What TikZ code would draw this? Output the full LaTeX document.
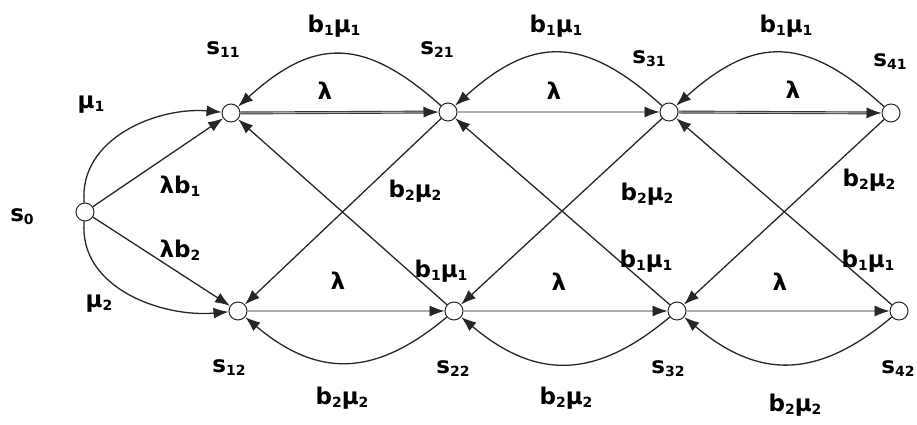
\documentclass[tikz,border=0pt]{standalone}
\usepackage{fontspec}
\setmainfont{DejaVu Sans}
\usetikzlibrary{automata, arrows.meta}

\newcommand{\sbs}[1]{\raisebox{-3pt}{\fontsize{14}{14}\selectfont #1}}

\begin{document}
\begin{tikzpicture}[
        ->,
        >={Latex[length=15pt,width=11pt]},
        every state/.style={draw=black!85, fill=white, line width=1pt, minimum size=18pt, inner sep=0pt},
        every edge/.append style={draw=black!85, line width=1.3pt},
        lam/.style={draw=black!80, double=gray!65, double distance=1.1pt, line width=0.9pt,
            -{Latex[length=15pt,width=11pt,color=black!85]}},
        txt/.style={font=\fontsize{23}{25}\selectfont\bfseries, inner sep=0pt},
        x=1pt,
        y=1pt
    ]
    \useasboundingbox (0,0) rectangle (917,425);

    % states
    \node[state] (s0)  at (85,213)  {};
    \node[state] (s11) at (231,312) {};
    \node[state] (s21) at (448,313) {};
    \node[state] (s31) at (669,313) {};
    \node[state] (s41) at (891,312) {};
    \node[state] (s12) at (238,114) {};
    \node[state] (s22) at (454,114) {};
    \node[state] (s32) at (677,114) {};
    \node[state] (s42) at (899,114) {};

    % state names
    \node[txt] (n0)  at (22,208)  {s\sbs{0}};
    \node[txt] (n11) at (223,375) {s\sbs{11}};
    \node[txt] (n21) at (437,375) {s\sbs{21}};
    \node[txt] (n31) at (649,366) {s\sbs{31}};
    \node[txt] (n41) at (890,363) {s\sbs{41}};
    \node[txt] (n12) at (229,57)  {s\sbs{12}};
    \node[txt] (n22) at (453,56)  {s\sbs{22}};
    \node[txt] (n32) at (668,56)  {s\sbs{32}};
    \node[txt] (n42) at (898,56)  {s\sbs{42}};

    % from s0
    \draw (s0) edge[out=95, in=175] (s11)
    (s0) edge (s11)
    (s0) edge (s12)
    (s0) edge[out=265, in=185] (s12)
    ;

    % arrivals, rates lambda
    \draw (s11) edge[lam] (s21)
    (s21) edge[lam] (s31)
    (s31) edge[lam] (s41)
    (s12) edge[lam] (s22)
    (s22) edge[lam] (s32)
    (s32) edge[lam] (s42)
    ;

    % services in the same row
    \draw (s21) edge[bend right=42, looseness=1.3] (s11)
    (s31) edge[bend right=42, looseness=1.3] (s21)
    (s41) edge[bend right=42, looseness=1.3] (s31)
    (s22) edge[bend left=40, looseness=1.2] (s12)
    (s32) edge[bend left=40, looseness=1.2] (s22)
    (s42) edge[bend left=40, looseness=1.2] (s32)
    ;

    % services across rows
    \draw (s21) edge (s12)
    (s31) edge (s22)
    (s41) edge (s32)
    (s22) edge (s11)
    (s32) edge (s21)
    (s42) edge (s31)
    ;

    % rate labels
    \node[txt] (m1)  at (91,320)  {μ\sbs{1}};
    \node[txt] (lb1) at (180,239) {λb\sbs{1}};
    \node[txt] (lb2) at (180,175) {λb\sbs{2}};
    \node[txt] (m2)  at (99,121)  {μ\sbs{2}};

    \node[txt] (la1) at (325,334) {λ};
    \node[txt] (la2) at (554,334) {λ};
    \node[txt] (la3) at (793,335) {λ};
    \node[txt] (lc1) at (338,144) {λ};
    \node[txt] (lc2) at (559,143) {λ};
    \node[txt] (lc3) at (780,143) {λ};

    \node[txt] (ta1) at (334,399) {b\sbs{1}μ\sbs{1}};
    \node[txt] (ta2) at (556,399) {b\sbs{1}μ\sbs{1}};
    \node[txt] (ta3) at (786,399) {b\sbs{1}μ\sbs{1}};
    \node[txt] (bo1) at (342,27)  {b\sbs{2}μ\sbs{2}};
    \node[txt] (bo2) at (566,27)  {b\sbs{2}μ\sbs{2}};
    \node[txt] (bo3) at (795,20)  {b\sbs{2}μ\sbs{2}};

    \node[txt] (dc1) at (415,234) {b\sbs{2}μ\sbs{2}};
    \node[txt] (dc2) at (647,231) {b\sbs{2}μ\sbs{2}};
    \node[txt] (dc3) at (869,245) {b\sbs{2}μ\sbs{2}};
    \node[txt] (du1) at (441,154) {b\sbs{1}μ\sbs{1}};
    \node[txt] (du2) at (646,164) {b\sbs{1}μ\sbs{1}};
    \node[txt] (du3) at (868,164) {b\sbs{1}μ\sbs{1}};
\end{tikzpicture}
\end{document}
